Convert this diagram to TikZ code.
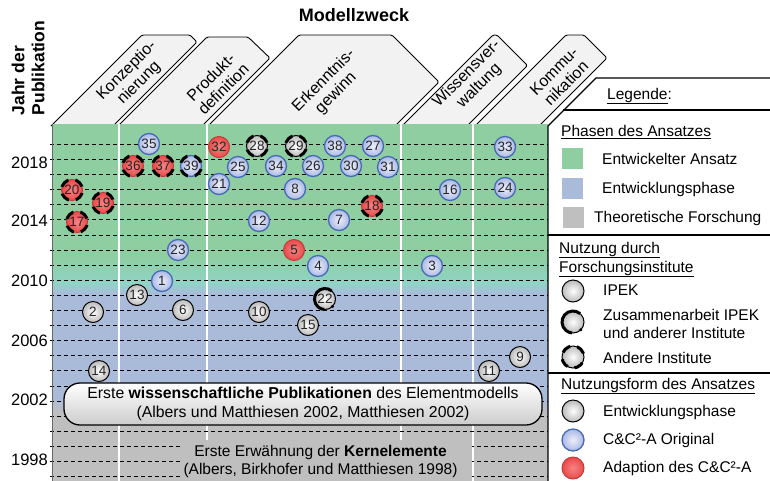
\documentclass[tikz,border=0pt]{standalone}
\usepackage{fontspec}
\setmainfont{Liberation Sans}
\definecolor{phgreen}{RGB}{142,206,160}
\definecolor{phteal}{RGB}{143,212,198}
\definecolor{phblue}{RGB}{170,187,218}
\definecolor{phgray}{RGB}{191,191,191}
\definecolor{tabfill}{RGB}{242,242,242}
\definecolor{bblue}{RGB}{72,106,182}
\definecolor{bbluefill}{RGB}{170,184,228}
\definecolor{bbluein}{RGB}{236,239,250}
\definecolor{bred}{RGB}{196,58,58}
\definecolor{bredfill}{RGB}{234,74,74}
\definecolor{bredin}{RGB}{246,132,132}
% partial ring with end dot: joint work of IPEK and other institutes
\newcommand\coopmark[2]{%
  \draw[coopring] ([shift={(-50:#2)}]#1.center) arc[start angle=-50, end angle=-265, radius=#2];
  \fill ([shift={(45:#2)}]#1.center) circle (1.7);}
\begin{document}
\begin{tikzpicture}[x=1pt,y=-1pt,
  tab/.style={fill=tabfill, draw=black, line width=0.9pt, rounded corners=1.5pt},
  tabtext/.style={rotate=45, align=center, font=\fontsize{16}{17.5}\selectfont, inner sep=0pt},
  yearlbl/.style={anchor=east, inner sep=0pt, font=\fontsize{16.5}{18}\selectfont},
  rowline/.style={black, line width=0.8pt, dash pattern=on 4pt off 3pt},
  colsep/.style={white, line width=1.2pt},
  bub/.style={circle, minimum size=21pt, inner sep=0pt, text=black!85, font=\fontsize{13.5}{14}\selectfont},
  ipek/.style={bub, draw=black, line width=1pt, inner color=white, outer color=black!27},
  orig/.style={bub, draw=bblue, line width=1.3pt, inner color=bbluein, outer color=bbluefill},
  adapt/.style={bub, draw=bred, line width=1pt, inner color=bredin, outer color=bredfill},
  other/.style={postaction={draw=black, line width=3pt, dash pattern=on 9.5pt off 7pt, dash phase=13pt}},
  coopring/.style={draw=black, line width=3pt},
  lbl/.style={anchor=west, inner sep=0pt, font=\fontsize{15.5}{18}\selectfont},
  swatch/.style={minimum size=21pt, inner sep=0pt},
  legline/.style={black, line width=1.2pt},
  pubbox/.style={draw=black, line width=1.3pt, rounded corners=16pt, top color=white, bottom color=black!20,
    minimum width=478pt, minimum height=42pt, align=center, font=\fontsize{15.8}{19}\selectfont}]
\useasboundingbox (0,0) rectangle (770,480);

% header tabs (purpose of the model)
\draw[tab] (51,126) -- (142,35) -- (190,35) -- (197,42) -- (113,126);
\draw[tab] (118,126) -- (207,37) -- (248,37) -- (270,58) -- (202,126);
\draw[tab] (208,126) -- (299,35) -- (392,35) -- (439,82) -- (395,126);
\draw[tab] (402,126) -- (493,35) -- (497,35) -- (527.5,65.5) -- (467,126);
\draw[tab] (475,126) -- (566,35) -- (584,35) -- (607,58) -- (539,126);
\node[tabtext] (t1) at (133,77) {Konzeptio-\\nierung};
\node[tabtext] (t2) at (217,83) {Produkt-\\definition};
\node[tabtext] (t3) at (330,87) {Erkenntnis-\\gewinn};
\node[tabtext] (t4) at (473,80) {Wissensver-\\waltung};
\node[tabtext] (t5) at (560,77) {Kommu-\\nikation};
\node[font=\fontsize{18}{20}\selectfont\bfseries, inner sep=0pt] (title) at (354,15) {Modellzweck};
\node[rotate=90, align=left, inner sep=0pt, font=\fontsize{17.5}{20}\selectfont\bfseries] (yaxis) at (28,68) {Jahr der\\Publikation};

% phase backgrounds
\fill[phgreen] (52,124) rectangle (548,256);
\shade[top color=phgreen, bottom color=phteal] (52,255.5) rectangle (548,283);
\shade[top color=phteal, bottom color=phblue] (52,282.5) rectangle (548,294);
\fill[phblue] (52,293.5) rectangle (548,399);
\shade[top color=phblue, bottom color=phgray] (52,398.5) rectangle (548,413);
\fill[phgray] (52,412.5) rectangle (548,481);

% column separators and year grid
\foreach \xc in {119,207,401,473} \draw[colsep] (\xc,124) -- (\xc,481);
\foreach \k in {0,...,22} \draw[rowline] (50,{144.3+15.1*\k}) -- (548,{144.3+15.1*\k});
\draw[black!60, line width=0.8pt] (52,124) -- (52,481);

\node[yearlbl] (y2018) at (48,163) {2018};
\node[yearlbl] (y2014) at (48,221) {2014};
\node[yearlbl] (y2010) at (48,281) {2010};
\node[yearlbl] (y2006) at (48,341) {2006};
\node[yearlbl] (y2002) at (48,400) {2002};
\node[yearlbl] (y1998) at (48,460) {1998};

% milestones
\fill[phgray] (180,440) rectangle (472,481);
\node[align=center, inner sep=0pt, font=\fontsize{15.5}{18}\selectfont] (kern) at (320.5,461)
  {Erste Erwähnung der \textbf{Kernelemente}\\(Albers, Birkhofer und Matthiesen 1998)};
\node[pubbox] (pub) at (303,404)
  {Erste \textbf{wissenschaftliche Publikationen} des Elementmodells\\(Albers und Matthiesen 2002, Matthiesen 2002)};

% publications: IPEK, development phase
\node[ipek] (p2) at (93,312) {2};
\node[ipek] (p13) at (137,295) {13};
\node[ipek] (p6) at (183,310) {6};
\node[ipek] (p10) at (259,312) {10};
\node[ipek] (p14) at (99,371) {14};
\node[ipek] (p15) at (308,325) {15};
\node[ipek] (p9) at (520,357) {9};
\node[ipek] (p11) at (489,371) {11};
\node[ipek] (p22) at (325,299) {22};
\coopmark{p22}{10.5}
\node[ipek, other] (p28) at (257,146) {28};
\node[ipek, other] (p29) at (296,146) {29};

% publications: original approach
\node[orig] (p35) at (149,144) {35};
\node[orig] (p25) at (238,167) {25};
\node[orig] (p34) at (276,166) {34};
\node[orig] (p21) at (219,184) {21};
\node[orig] (p12) at (259,221) {12};
\node[orig] (p23) at (178,250) {23};
\node[orig] (p1) at (162,281) {1};
\node[orig] (p38) at (335,146) {38};
\node[orig] (p27) at (373,146) {27};
\node[orig] (p33) at (505,147) {33};
\node[orig] (p26) at (313,166) {26};
\node[orig] (p30) at (351,166) {30};
\node[orig] (p31) at (388,167) {31};
\node[orig] (p8) at (295,189) {8};
\node[orig] (p16) at (450,190) {16};
\node[orig] (p24) at (505,188) {24};
\node[orig] (p7) at (339,220) {7};
\node[orig] (p4) at (318,266) {4};
\node[orig] (p3) at (432,266) {3};
\node[orig, other] (p39) at (191,166) {39};

% publications: adapted approach
\node[adapt] (p32) at (219,147) {32};
\node[adapt] (p5) at (294,250) {5};
\node[adapt, other] (p36) at (133,166) {36};
\node[adapt, other] (p37) at (163,166) {37};
\node[adapt, other] (p20) at (72,190) {20};
\node[adapt, other] (p19) at (103,203) {19};
\node[adapt, other] (p17) at (77,222) {17};
\node[adapt, other] (p18) at (372,206) {18};

% legend
\draw[legline] (548,481) -- (548,126) -- (596,78) -- (772,78);
\draw[legline] (563,110) -- (772,110);
\draw[legline] (548,235) -- (772,235);
\draw[legline] (548,373) -- (772,373);
\node[lbl] (lgHead) at (607,96) {\underline{Legende}:};

\node[lbl] (lgPhase) at (561,132) {\underline{Phasen des Ansatzes}};
\node[swatch, fill=phgreen] (sw1) at (572.5,158) {};
\node[swatch, fill=phblue] (sw2) at (572.5,188) {};
\node[swatch, fill=phgray] (sw3) at (573.5,217) {};
\node[lbl] (lgDev) at (602,159) {Entwickelter Ansatz};
\node[lbl] (lgDevPh) at (602,189) {Entwicklungsphase};
\node[lbl] (lgTheo) at (594,218) {Theoretische Forschung};

\node[lbl] (lgUse1) at (559,250) {\underline{Nutzung durch}};
\node[lbl] (lgUse2) at (559,269) {\underline{Forschungsinstitute}};
\node[ipek, minimum size=22pt] (lcIpek) at (573,291) {};
\node[ipek, minimum size=22pt] (lcCoop) at (573,322) {};
\coopmark{lcCoop}{11}
\node[ipek, minimum size=22pt, other] (lcOther) at (573,357) {};
\node[lbl] (lgIpek) at (603,290) {IPEK};
\node[lbl] (lgCoop1) at (603,315) {Zusammenarbeit IPEK};
\node[lbl] (lgCoop2) at (603,333) {und anderer Institute};
\node[lbl] (lgOther) at (603,358) {Andere Institute};

\node[lbl] (lgForm) at (561,386) {\underline{Nutzungsform des Ansatzes}};
\node[ipek, minimum size=22pt] (lcDev) at (573,411) {};
\node[orig, minimum size=22pt] (lcOrig) at (573,440) {};
\node[adapt, minimum size=22pt] (lcAdapt) at (573,468) {};
\node[lbl] (lgFDev) at (603,412) {Entwicklungsphase};
\node[lbl] (lgFOrig) at (603,440) {C\&C²-A Original};
\node[lbl] (lgFAdapt) at (603,468) {Adaption des C\&C²-A};
\end{tikzpicture}
\end{document}
